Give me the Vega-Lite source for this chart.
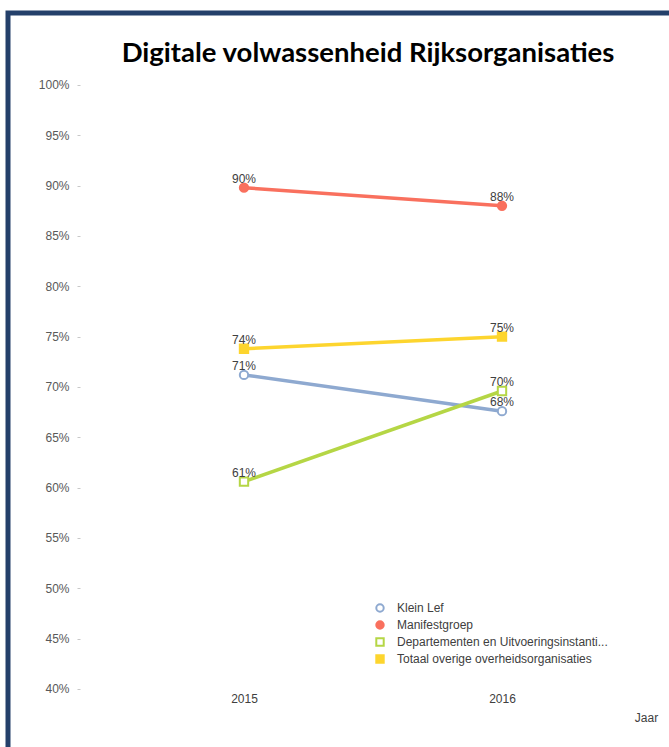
{
  "$schema": "https://vega.github.io/schema/vega-lite/v6.json",
  "autosize": "none",
  "padding": {"left": 8, "top": 13, "right": 0, "bottom": 0},
  "width": 730,
  "height": 744,
  "background": "white",
  "title": {
    "text": "Digitale volwassenheid Rijksorganisaties",
    "font": "Lato",
    "fontSize": 27.5,
    "fontWeight": "bold",
    "color": "#000000",
    "anchor": "middle",
    "frame": "group",
    "orient": "top",
    "baseline": "alphabetic",
    "offset": 0,
    "dy": 76,
    "dx": -5
  },
  "config": {
    "view": {"stroke": "#24406A", "strokeWidth": 5},
    "font": "Liberation Sans",
    "legend": {
      "title": null,
      "orient": "none",
      "legendX": 366,
      "legendY": 589,
      "labelFont": "Liberation Sans",
      "labelFontSize": 12,
      "labelColor": "#404040",
      "labelLimit": 300,
      "rowPadding": 1,
      "symbolSize": 55,
      "symbolStrokeWidth": 2,
      "labelOffset": 11
    }
  },
  "data": {
    "values": [
      {"Jaar": "2015", "Reeks": "Klein Lef", "Waarde": 0.712},
      {"Jaar": "2016", "Reeks": "Klein Lef", "Waarde": 0.676},
      {"Jaar": "2015", "Reeks": "Manifestgroep", "Waarde": 0.898},
      {"Jaar": "2016", "Reeks": "Manifestgroep", "Waarde": 0.880},
      {"Jaar": "2015", "Reeks": "Departementen en Uitvoeringsinstanties", "Waarde": 0.606},
      {"Jaar": "2016", "Reeks": "Departementen en Uitvoeringsinstanties", "Waarde": 0.696},
      {"Jaar": "2015", "Reeks": "Totaal overige overheidsorganisaties", "Waarde": 0.738},
      {"Jaar": "2016", "Reeks": "Totaal overige overheidsorganisaties", "Waarde": 0.750}
    ]
  },
  "encoding": {
    "x": {
      "field": "Jaar",
      "type": "ordinal",
      "scale": {"type": "point", "padding": 0.9147},
      "axis": {
        "title": "Jaar",
        "labelAngle": 0,
        "offset": -68,
        "domain": false,
        "ticks": false,
        "tickSize": 0,
        "grid": false,
        "labelPadding": 4,
        "labelFont": "Liberation Sans",
        "labelFontSize": 12,
        "labelColor": "#404040",
        "titleFont": "Liberation Sans",
        "titleFontSize": 12,
        "titleFontWeight": "normal",
        "titleColor": "#404040",
        "titleX": 638,
        "titleY": 28,
        "titleBaseline": "middle",
        "titleAlign": "center"
      }
    },
    "y": {
      "field": "Waarde",
      "type": "quantitative",
      "scale": {"domain": [0.33245, 1.07152], "nice": false, "zero": false},
      "axis": {
        "title": null,
        "values": [0.4, 0.45, 0.5, 0.55, 0.6, 0.65, 0.7, 0.75, 0.8, 0.85, 0.9, 0.95, 1.0],
        "format": ".0%",
        "offset": -72,
        "domain": false,
        "grid": false,
        "tickSize": 3,
        "tickColor": "#c8c8c8",
        "labelPadding": 8,
        "labelFont": "Liberation Sans",
        "labelFontSize": 12,
        "labelColor": "#595959"
      }
    }
  },
  "layer": [
    {
      "mark": {"type": "line", "strokeWidth": 3.5},
      "encoding": {
        "stroke": {
          "field": "Reeks",
          "type": "nominal",
          "scale": {
            "domain": ["Klein Lef", "Manifestgroep", "Departementen en Uitvoeringsinstanties", "Totaal overige overheidsorganisaties"],
            "range": ["#8EA9D0", "#F9705E", "#B5D645", "#FDD52E"]
          },
          "legend": {
            "labelExpr": "datum.label == 'Departementen en Uitvoeringsinstanties' ? 'Departementen en Uitvoeringsinstanti...' : datum.label"
          }
        }
      }
    },
    {
      "mark": {"type": "point", "filled": false, "strokeWidth": 2, "opacity": 1},
      "encoding": {
        "stroke": {
          "field": "Reeks",
          "type": "nominal",
          "scale": {
            "domain": ["Klein Lef", "Manifestgroep", "Departementen en Uitvoeringsinstanties", "Totaal overige overheidsorganisaties"],
            "range": ["#8EA9D0", "#F9705E", "#B5D645", "#FDD52E"]
          },
          "legend": {
            "labelExpr": "datum.label == 'Departementen en Uitvoeringsinstanties' ? 'Departementen en Uitvoeringsinstanti...' : datum.label"
          }
        },
        "fill": {
          "field": "Reeks",
          "type": "nominal",
          "scale": {
            "domain": ["Klein Lef", "Manifestgroep", "Departementen en Uitvoeringsinstanties", "Totaal overige overheidsorganisaties"],
            "range": ["#ffffff", "#F9705E", "#ffffff", "#FDD52E"]
          },
          "legend": {
            "labelExpr": "datum.label == 'Departementen en Uitvoeringsinstanties' ? 'Departementen en Uitvoeringsinstanti...' : datum.label"
          }
        },
        "shape": {
          "field": "Reeks",
          "type": "nominal",
          "scale": {
            "domain": ["Klein Lef", "Manifestgroep", "Departementen en Uitvoeringsinstanties", "Totaal overige overheidsorganisaties"],
            "range": ["circle", "circle", "square", "square"]
          },
          "legend": {
            "labelExpr": "datum.label == 'Departementen en Uitvoeringsinstanties' ? 'Departementen en Uitvoeringsinstanti...' : datum.label"
          }
        },
        "size": {"value": 70}
      }
    },
    {
      "mark": {"type": "text", "baseline": "bottom", "dy": -2, "font": "Liberation Sans", "fontSize": 12, "color": "#404040"},
      "encoding": {
        "text": {"field": "Waarde", "type": "quantitative", "format": ".0%"}
      }
    }
  ]
}
